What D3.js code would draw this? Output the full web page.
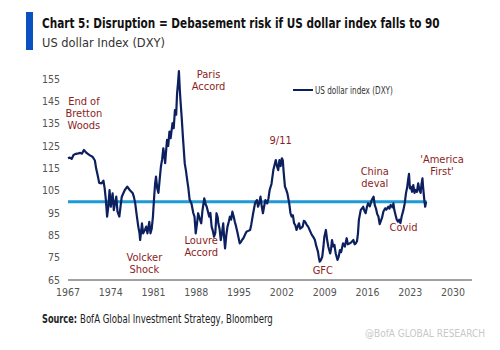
<!DOCTYPE html>
<html>
<head>
<meta charset="utf-8">
<script src="https://cdn.jsdelivr.net/npm/d3@7"></script>
<style>
  body { margin: 0; background: #fff; }
  svg { display: block; }
  text { font-family: "Liberation Sans Narrow", "DejaVu Sans Condensed", "Roboto", sans-serif; }
</style>
</head>
<body>
<svg id="chart" width="500" height="350"></svg>
<script>
var titleText = 'Chart 5: Disruption = Debasement risk if US dollar index falls to 90';
var subtitleText = 'US dollar Index (DXY)';
var seriesName = 'US dollar index (DXY)';
var sourceLabel = 'Source:';
var sourceText = 'BofA Global Investment Strategy, Bloomberg';
var yTicks = [65, 75, 85, 95, 105, 115, 125, 135, 145, 155];
var xTicks = [1967, 1974, 1981, 1988, 1995, 2002, 2009, 2016, 2023, 2030];
var threshold = 100;

// DXY (year, level)
var dxyYears = [
  1967.0, 1967.3, 1967.6, 1967.9, 1968.3, 1968.7, 1969.0, 1969.3, 1969.6, 1970.0,
  1970.3, 1970.6, 1971.0, 1971.4, 1971.6, 1971.9, 1972.1, 1972.5, 1972.8, 1973.0,
  1973.2, 1973.4, 1973.6, 1973.8, 1974.0, 1974.3, 1974.5, 1974.7, 1974.9, 1975.1,
  1975.4, 1975.6, 1975.8, 1976.0, 1976.3, 1976.7, 1977.1, 1977.6, 1977.8, 1978.0,
  1978.2, 1978.5, 1978.7, 1978.8, 1979.0, 1979.1, 1979.3, 1979.6, 1979.8, 1980.0,
  1980.3, 1980.5, 1980.7, 1980.9, 1981.1, 1981.25, 1981.4, 1981.6, 1981.8, 1982.0,
  1982.2, 1982.4, 1982.6, 1982.9, 1983.0, 1983.2, 1983.4, 1983.6, 1983.8, 1984.1,
  1984.3, 1984.5, 1984.7, 1984.85, 1985.0, 1985.15, 1985.3, 1985.4, 1985.6, 1985.8,
  1986.1, 1986.3, 1986.5, 1986.7, 1986.9, 1987.2, 1987.5, 1987.7, 1987.9, 1988.1,
  1988.3, 1988.6, 1988.8, 1989.0, 1989.3, 1989.5, 1989.7, 1990.1, 1990.3, 1990.5,
  1990.7, 1990.9, 1991.1, 1991.3, 1991.5, 1991.6, 1991.8, 1992.0, 1992.2, 1992.4,
  1992.55, 1992.7, 1992.9, 1993.1, 1993.3, 1993.5, 1993.7, 1993.9, 1994.1, 1994.3,
  1994.5, 1994.7, 1994.9, 1995.1, 1995.3, 1995.5, 1995.7, 1996.0, 1996.2, 1996.5,
  1996.8, 1997.0, 1997.3, 1997.6, 1997.9, 1998.1, 1998.3, 1998.5, 1998.7, 1998.9,
  1999.1, 1999.3, 1999.6, 1999.8, 2000.0, 2000.3, 2000.6, 2000.8, 2001.0, 2001.2,
  2001.4, 2001.6, 2001.8, 2002.0, 2002.15, 2002.3, 2002.5, 2002.7, 2002.9, 2003.2,
  2003.4, 2003.6, 2003.8, 2004.0, 2004.2, 2004.4, 2004.6, 2004.8, 2005.0, 2005.4,
  2005.6, 2005.8, 2006.1, 2006.3, 2006.6, 2006.9, 2007.2, 2007.4, 2007.6, 2007.9,
  2008.05, 2008.2, 2008.4, 2008.6, 2008.8, 2008.95, 2009.2, 2009.4, 2009.6, 2009.9,
  2010.05, 2010.2, 2010.4, 2010.6, 2010.8, 2011.1, 2011.3, 2011.5, 2011.7, 2012.0,
  2012.3, 2012.6, 2012.8, 2013.1, 2013.4, 2013.7, 2013.9, 2014.1, 2014.3, 2014.45,
  2014.6, 2014.9, 2015.1, 2015.3, 2015.5, 2015.7, 2015.9, 2016.1, 2016.4, 2016.7,
  2017.0, 2017.2, 2017.4, 2017.6, 2017.8, 2018.0, 2018.2, 2018.4, 2018.6, 2018.9,
  2019.1, 2019.4, 2019.6, 2019.8, 2020.1, 2020.25, 2020.4, 2020.6, 2020.8, 2021.0,
  2021.2, 2021.4, 2021.6, 2021.9, 2022.1, 2022.3, 2022.5, 2022.65, 2022.8, 2022.95,
  2023.1, 2023.3, 2023.5, 2023.7, 2023.9, 2024.1, 2024.3, 2024.5, 2024.7, 2024.85,
  2025.0, 2025.1, 2025.3, 2025.45, 2025.6
];
var dxyValues = [
  119.5, 119.8, 119.2, 121.0, 121.5, 121.7, 121.9, 121.6, 123.2, 122.0,
  121.4, 120.8, 120.2, 118.5, 115.0, 111.3, 108.5, 108.3, 109.5, 106.0,
  100.8, 93.4, 98.0, 105.3, 97.8, 103.8, 96.3, 99.5, 102.3, 95.6,
  93.4, 98.0, 102.3, 103.5, 105.3, 106.8, 105.3, 103.8, 102.0, 99.3,
  94.9, 88.9, 86.0, 82.9, 87.5, 90.4, 85.9, 87.5, 88.9, 85.9,
  91.0, 85.9, 88.0, 93.4, 102.3, 108.0, 111.3, 106.0, 104.0, 110.0,
  115.7, 119.0, 124.0, 117.3, 121.0, 127.7, 125.0, 131.4, 128.5, 135.2,
  133.0, 141.1, 139.0, 148.6, 153.0, 158.5, 150.0, 145.6, 138.0, 129.2,
  117.3, 114.0, 109.8, 106.0, 101.0, 99.3, 95.0, 93.4, 85.9, 90.0,
  94.9, 92.0, 90.4, 96.0, 101.6, 99.0, 97.8, 93.4, 95.0, 88.9,
  87.0, 84.4, 86.0, 94.9, 93.0, 90.4, 88.0, 82.9, 86.0, 90.4,
  84.0, 79.2, 85.0, 88.9, 91.0, 93.4, 92.0, 95.6, 93.5, 91.1,
  89.0, 86.6, 84.0, 81.4, 82.0, 83.0, 83.7, 85.5, 86.6, 87.0,
  87.4, 90.0, 94.9, 99.3, 100.8, 97.8, 99.5, 102.3, 98.0, 94.9,
  98.0, 100.8, 99.3, 101.5, 105.3, 108.0, 114.2, 116.5, 118.7, 116.0,
  114.2, 118.7, 116.0, 119.5, 118.5, 113.0, 106.8, 105.5, 103.8, 99.3,
  95.0, 93.4, 94.0, 90.4, 89.5, 87.4, 89.0, 90.4, 88.0, 88.9,
  91.5, 91.1, 89.5, 88.9, 87.0, 85.2, 84.0, 82.9, 80.5, 77.7,
  75.0, 73.2, 74.0, 75.4, 80.0, 84.4, 87.4, 83.0, 79.9, 76.9,
  79.0, 82.9, 80.0, 80.7, 77.0, 74.0, 75.5, 78.4, 77.5, 81.4,
  80.0, 83.7, 81.0, 81.4, 82.0, 82.9, 81.0, 81.4, 82.5, 85.9,
  91.9, 96.3, 97.0, 97.8, 96.0, 94.9, 97.5, 99.3, 98.0, 100.8,
  102.3, 98.5, 97.0, 94.5, 93.4, 90.0, 91.5, 93.0, 95.6, 97.1,
  96.5, 97.8, 97.0, 98.6, 97.5, 99.3, 96.3, 94.1, 92.0, 91.1,
  92.0, 90.5, 93.4, 96.5, 99.3, 103.8, 106.5, 109.8, 112.5, 106.0,
  106.8, 104.5, 107.5, 104.0, 105.3, 104.5, 108.3, 105.3, 104.0, 108.0,
  110.5, 106.8, 101.0, 97.8, 100.1
];

// event labels: text lines, anchor year, anchor level
var eventLabels = [
  { lines: ['End of', 'Bretton', 'Woods'], year: 1969.6, level: 143.5 },
  { lines: ['Paris', 'Accord'], year: 1990.0, level: 155.5 },
  { lines: ['Volcker', 'Shock'], year: 1979.5, level: 73.5 },
  { lines: ['Louvre', 'Accord'], year: 1988.8, level: 81.2 },
  { lines: ['9/11'], year: 2001.8, level: 125.8 },
  { lines: ['China', 'deval'], year: 2017.2, level: 112 },
  { lines: ['Covid'], year: 2021.9, level: 87 },
  { lines: ['GFC'], year: 2008.7, level: 67.8 },
  { lines: ["'America", "First'"], year: 2028.2, level: 117.5 }
];

var navy = '#0c1f5e';
var lightBlue = '#1e9ad6';
var maroon = '#8c1d1d';
var tickGrey = '#555';

var svg = d3.select('#chart');

var x = d3.scaleLinear().domain([1967, 2030]).range([68, 453]);
var y = d3.scaleLinear().domain([65, 155]).range([280, 79]);

// squeeze a text horizontally so it spans the given width
function fitText(sel, left, baseline, width) {
    var natural = sel.node().getComputedTextLength();
    var sx = Math.min(1, width / natural);
    sel.attr('x', 0).attr('y', 0)
        .attr('transform', 'translate(' + left + ',' + baseline + ') scale(' + sx + ',1)');
    return sel;
}

// header
svg.append('rect')
    .attr('x', 26).attr('y', 12)
    .attr('width', 7).attr('height', 38)
    .attr('fill', '#0b50c0');
fitText(svg.append('text')
    .attr('font-size', 13.5).attr('font-weight', 'bold')
    .attr('fill', '#111')
    .text(titleText), 42, 28, 398);
fitText(svg.append('text')
    .attr('font-size', 13)
    .attr('fill', '#333')
    .text(subtitleText), 42, 47, 123);

// axes
var yAxis = svg.append('g').attr('class', 'y-axis');
yAxis.selectAll('text')
    .data(yTicks)
    .enter()
    .append('text')
    .attr('x', 60)
    .attr('y', function (d) { return y(d); })
    .attr('dy', '0.35em')
    .attr('text-anchor', 'end')
    .attr('font-size', 10.5)
    .attr('fill', tickGrey)
    .text(function (d) { return d; });

var xAxis = svg.append('g').attr('class', 'x-axis');
xAxis.append('line')
    .attr('x1', x(1967)).attr('x2', x(2033.1))
    .attr('y1', y(65)).attr('y2', y(65))
    .attr('stroke', '#444').attr('stroke-width', 1);
xAxis.selectAll('text')
    .data(xTicks)
    .enter()
    .append('text')
    .attr('x', function (d) { return x(d); })
    .attr('y', 296)
    .attr('text-anchor', 'middle')
    .attr('font-size', 10.5)
    .attr('fill', tickGrey)
    .text(function (d) { return d; });

// series
var dxy = dxyYears.map(function (yr, i) { return { year: yr, value: dxyValues[i] }; });
var line = d3.line()
    .x(function (d) { return x(d.year); })
    .y(function (d) { return y(d.value); });

svg.append('line')
    .attr('x1', x(1967)).attr('x2', x(2025.7))
    .attr('y1', y(threshold)).attr('y2', y(threshold))
    .attr('stroke', lightBlue).attr('stroke-width', 3);

svg.append('path')
    .datum(dxy)
    .attr('d', line)
    .attr('fill', 'none')
    .attr('stroke', navy)
    .attr('stroke-width', 2.2)
    .attr('stroke-linejoin', 'round');

// legend
var legend = svg.append('g').attr('class', 'legend');
legend.append('line')
    .attr('x1', 293).attr('x2', 313)
    .attr('y1', 90).attr('y2', 90)
    .attr('stroke', navy).attr('stroke-width', 2);
fitText(legend.append('text')
    .attr('font-size', 10)
    .attr('fill', '#333')
    .text(seriesName), 315, 93.5, 78);

// event annotations
var notes = svg.append('g').attr('class', 'notes');
eventLabels.forEach(function (ev) {
    var t = notes.append('text')
        .attr('x', x(ev.year))
        .attr('y', y(ev.level))
        .attr('text-anchor', 'middle')
        .attr('font-size', 11)
        .attr('fill', maroon);
    ev.lines.forEach(function (ln, i) {
        t.append('tspan')
            .attr('x', x(ev.year))
            .attr('dy', i === 0 ? 0 : 12)
            .text(ln);
    });
});

// footer
fitText(svg.append('text')
    .attr('font-size', 11.5).attr('font-weight', 'bold')
    .attr('fill', '#222')
    .text(sourceLabel), 42, 323, 35);
fitText(svg.append('text')
    .attr('font-size', 11.5)
    .attr('fill', '#222')
    .text(sourceText), 80, 323, 193);

svg.append('text')
    .attr('x', 485).attr('y', 337)
    .attr('text-anchor', 'end')
    .attr('font-size', 10)
    .attr('fill', '#c8c8c8')
    .text('@BofA GLOBAL RESEARCH');
</script>
</body>
</html>
